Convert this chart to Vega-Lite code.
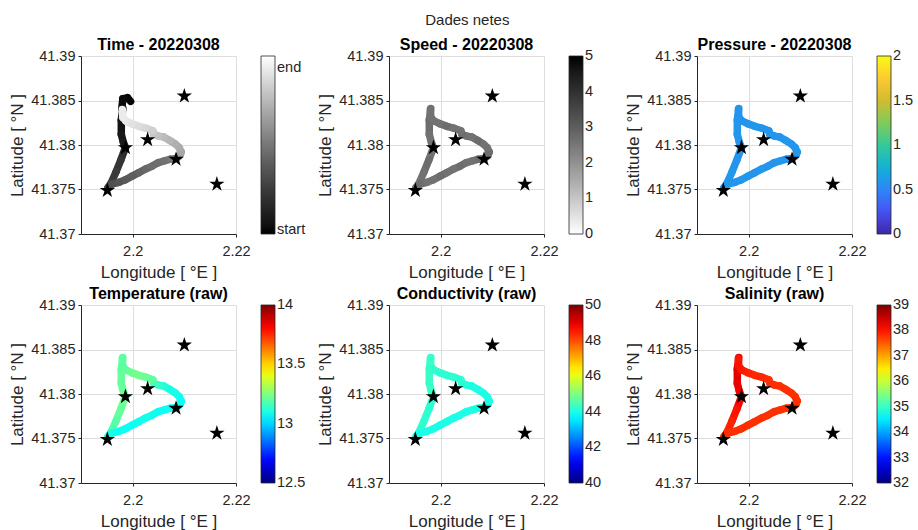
{
  "$schema": "https://vega.github.io/schema/vega-lite/v6.json",
  "padding": {"left": 8, "top": 13, "right": 5, "bottom": 2},
  "title": {"text": "Dades netes", "fontSize": 15, "fontWeight": "normal", "color": "#262626", "anchor": "middle", "dx": 6, "offset": 9},
  "datasets": {
    "stars": [
      {"name": "A", "lon": 2.1951, "lat": 41.3749},
      {"name": "B", "lon": 2.1986, "lat": 41.3797},
      {"name": "C", "lon": 2.2029, "lat": 41.3806},
      {"name": "D", "lon": 2.2084, "lat": 41.3784},
      {"name": "E", "lon": 2.2100, "lat": 41.3855},
      {"name": "F", "lon": 2.2163, "lat": 41.3756}
    ],
    "hook": [
      {"lon": 2.1996, "lat": 41.3849, "lon2": 2.1990, "lat2": 41.3853, "t": 0.01},
      {"lon": 2.1990, "lat": 41.3853, "lon2": 2.1981, "lat2": 41.3852, "t": 0.02},
      {"lon": 2.1981, "lat": 41.3852, "lon2": 2.1979, "lat2": 41.3841, "t": 0.03}
    ],
    "track": [
      {"lon": 2.1981, "lat": 41.3841, "lon2": 2.1978, "lat2": 41.3828, "t": 0.04, "speed": 2.6, "pres": 0.58, "temp": 13.20, "cond": 44.3, "sal": 38.3},
      {"lon": 2.1978, "lat": 41.3828, "lon2": 2.1978, "lat2": 41.3812, "t": 0.06, "speed": 2.7, "pres": 0.6, "temp": 13.21, "cond": 44.3, "sal": 38.3},
      {"lon": 2.1978, "lat": 41.3812, "lon2": 2.1982, "lat2": 41.3803, "t": 0.08, "speed": 2.6, "pres": 0.58, "temp": 13.21, "cond": 44.3, "sal": 38.25},
      {"lon": 2.1982, "lat": 41.3803, "lon2": 2.1986, "lat2": 41.3797, "t": 0.10, "speed": 2.6, "pres": 0.6, "temp": 13.22, "cond": 44.3, "sal": 38.2},
      {"lon": 2.1986, "lat": 41.3797, "lon2": 2.1977, "lat2": 41.3783, "t": 0.19, "speed": 2.6, "pres": 0.58, "temp": 13.22, "cond": 44.2, "sal": 38.1},
      {"lon": 2.1977, "lat": 41.3783, "lon2": 2.1968, "lat2": 41.3770, "t": 0.22, "speed": 2.7, "pres": 0.58, "temp": 13.21, "cond": 44.2, "sal": 38.0},
      {"lon": 2.1968, "lat": 41.3770, "lon2": 2.1958, "lat2": 41.3757, "t": 0.25, "speed": 2.6, "pres": 0.6, "temp": 13.19, "cond": 44.2, "sal": 37.9},
      {"lon": 2.1958, "lat": 41.3757, "lon2": 2.1952, "lat2": 41.3752, "t": 0.27, "speed": 2.5, "pres": 0.58, "temp": 13.15, "cond": 44.1, "sal": 37.85},
      {"lon": 2.1952, "lat": 41.3752, "lon2": 2.1960, "lat2": 41.3756, "t": 0.32, "speed": 2.6, "pres": 0.58, "temp": 13.10, "cond": 44.0, "sal": 37.8},
      {"lon": 2.1960, "lat": 41.3756, "lon2": 2.1973, "lat2": 41.3758, "t": 0.34, "speed": 2.7, "pres": 0.6, "temp": 13.09, "cond": 44.0, "sal": 37.8},
      {"lon": 2.1973, "lat": 41.3758, "lon2": 2.1986, "lat2": 41.3761, "t": 0.36, "speed": 2.6, "pres": 0.58, "temp": 13.08, "cond": 44.0, "sal": 37.8},
      {"lon": 2.1986, "lat": 41.3761, "lon2": 2.1999, "lat2": 41.3765, "t": 0.38, "speed": 2.6, "pres": 0.6, "temp": 13.08, "cond": 44.0, "sal": 37.8},
      {"lon": 2.1999, "lat": 41.3765, "lon2": 2.2012, "lat2": 41.3769, "t": 0.40, "speed": 2.7, "pres": 0.58, "temp": 13.08, "cond": 44.0, "sal": 37.8},
      {"lon": 2.2012, "lat": 41.3769, "lon2": 2.2025, "lat2": 41.3773, "t": 0.42, "speed": 2.6, "pres": 0.58, "temp": 13.09, "cond": 44.0, "sal": 37.8},
      {"lon": 2.2025, "lat": 41.3773, "lon2": 2.2037, "lat2": 41.3776, "t": 0.44, "speed": 2.6, "pres": 0.6, "temp": 13.09, "cond": 44.0, "sal": 37.8},
      {"lon": 2.2037, "lat": 41.3776, "lon2": 2.2049, "lat2": 41.3780, "t": 0.46, "speed": 2.7, "pres": 0.58, "temp": 13.09, "cond": 44.0, "sal": 37.8},
      {"lon": 2.2049, "lat": 41.3780, "lon2": 2.2060, "lat2": 41.3782, "t": 0.47, "speed": 2.6, "pres": 0.58, "temp": 13.08, "cond": 44.0, "sal": 37.8},
      {"lon": 2.2060, "lat": 41.3782, "lon2": 2.2073, "lat2": 41.3784, "t": 0.48, "speed": 2.6, "pres": 0.6, "temp": 13.08, "cond": 44.0, "sal": 37.8},
      {"lon": 2.2073, "lat": 41.3784, "lon2": 2.2085, "lat2": 41.3785, "t": 0.50, "speed": 2.7, "pres": 0.58, "temp": 13.08, "cond": 44.0, "sal": 37.8},
      {"lon": 2.2085, "lat": 41.3785, "lon2": 2.2091, "lat2": 41.3788, "t": 0.58, "speed": 2.6, "pres": 0.58, "temp": 13.08, "cond": 44.0, "sal": 37.8},
      {"lon": 2.2091, "lat": 41.3788, "lon2": 2.2094, "lat2": 41.3792, "t": 0.64, "speed": 2.6, "pres": 0.58, "temp": 13.08, "cond": 44.0, "sal": 37.8},
      {"lon": 2.2094, "lat": 41.3792, "lon2": 2.2090, "lat2": 41.3797, "t": 0.68, "speed": 2.7, "pres": 0.6, "temp": 13.08, "cond": 44.0, "sal": 37.8},
      {"lon": 2.2090, "lat": 41.3797, "lon2": 2.2083, "lat2": 41.3801, "t": 0.70, "speed": 2.6, "pres": 0.58, "temp": 13.08, "cond": 44.0, "sal": 37.8},
      {"lon": 2.2083, "lat": 41.3801, "lon2": 2.2072, "lat2": 41.3805, "t": 0.72, "speed": 2.6, "pres": 0.58, "temp": 13.09, "cond": 44.0, "sal": 37.8},
      {"lon": 2.2072, "lat": 41.3805, "lon2": 2.2060, "lat2": 41.3809, "t": 0.74, "speed": 2.7, "pres": 0.6, "temp": 13.10, "cond": 44.0, "sal": 37.8},
      {"lon": 2.2060, "lat": 41.3809, "lon2": 2.2050, "lat2": 41.3810, "t": 0.76, "speed": 2.6, "pres": 0.58, "temp": 13.12, "cond": 44.0, "sal": 37.8},
      {"lon": 2.2050, "lat": 41.3810, "lon2": 2.2041, "lat2": 41.3812, "t": 0.78, "speed": 2.6, "pres": 0.58, "temp": 13.14, "cond": 44.1, "sal": 37.8},
      {"lon": 2.2041, "lat": 41.3812, "lon2": 2.2039, "lat2": 41.3816, "t": 0.80, "speed": 2.7, "pres": 0.6, "temp": 13.16, "cond": 44.1, "sal": 37.8},
      {"lon": 2.2039, "lat": 41.3816, "lon2": 2.2025, "lat2": 41.3819, "t": 0.83, "speed": 2.6, "pres": 0.58, "temp": 13.20, "cond": 44.2, "sal": 37.8},
      {"lon": 2.2025, "lat": 41.3819, "lon2": 2.2012, "lat2": 41.3821, "t": 0.86, "speed": 2.6, "pres": 0.58, "temp": 13.22, "cond": 44.2, "sal": 37.85},
      {"lon": 2.2012, "lat": 41.3821, "lon2": 2.1998, "lat2": 41.3824, "t": 0.88, "speed": 2.7, "pres": 0.6, "temp": 13.23, "cond": 44.2, "sal": 37.85},
      {"lon": 2.1998, "lat": 41.3824, "lon2": 2.1987, "lat2": 41.3827, "t": 0.90, "speed": 2.6, "pres": 0.58, "temp": 13.22, "cond": 44.2, "sal": 37.9},
      {"lon": 2.1987, "lat": 41.3827, "lon2": 2.1981, "lat2": 41.3831, "t": 0.92, "speed": 2.6, "pres": 0.58, "temp": 13.21, "cond": 44.2, "sal": 37.95},
      {"lon": 2.1981, "lat": 41.3831, "lon2": 2.1980, "lat2": 41.3840, "t": 0.93, "speed": 2.6, "pres": 0.58, "temp": 13.20, "cond": 44.3, "sal": 38.0}
    ]
  },
  "columns": 3,
  "bounds": "flush",
  "spacing": {"row": 71, "column": 153},
  "resolve": {"scale": {"color": "independent", "x": "independent", "y": "independent"}, "legend": {"color": "independent"}},
  "concat": [
    {
      "title": "Time - 20220308",
      "width": 155, "height": 178,
      "encoding": {
        "x": {"field": "lon", "type": "quantitative", "scale": {"domain": [2.19, 2.22], "nice": false, "zero": false}, "axis": {"values": [2.2, 2.22], "format": ".6~g", "title": "Longitude [ °E ]"}},
        "y": {"field": "lat", "type": "quantitative", "scale": {"domain": [41.37, 41.39], "nice": false, "zero": false}, "axis": {"values": [41.37, 41.375, 41.38, 41.385, 41.39], "format": ".6~g", "title": "Latitude [ °N ]"}}
      },
      "layer": [
        {"data": {"name": "hook"}, "mark": {"type": "rule", "strokeWidth": 7.5, "strokeCap": "round"},
         "encoding": {"x2": {"field": "lon2"}, "y2": {"field": "lat2"},
           "color": {"field": "t", "type": "quantitative", "scale": {"domain": [0, 1], "range": ["#000000", "#ffffff"]}, "legend": {"title": null, "values": [0.02, 0.93], "labelExpr": "datum.value < 0.5 ? 'start' : 'end'", "encode": {"labels": {"update": {"baseline": {"value": "middle"}}}}}}}},
        {"data": {"name": "track"}, "mark": {"type": "rule", "strokeWidth": 7.5, "strokeCap": "round"},
         "encoding": {"x2": {"field": "lon2"}, "y2": {"field": "lat2"},
           "color": {"field": "t", "type": "quantitative", "scale": {"domain": [0, 1], "range": ["#000000", "#ffffff"]}, "legend": {"title": null, "values": [0.02, 0.93], "labelExpr": "datum.value < 0.5 ? 'start' : 'end'", "encode": {"labels": {"update": {"baseline": {"value": "middle"}}}}}}}},
        {"data": {"name": "stars"}, "mark": {"type": "point", "shape": "M0,-1L0.2245,-0.309L0.9511,-0.309L0.3633,0.118L0.5878,0.809L0,0.382L-0.5878,0.809L-0.3633,0.118L-0.9511,-0.309L-0.2245,-0.309Z", "filled": true, "color": "#000000", "opacity": 1, "size": 260}}
      ]
    },
    {
      "title": "Speed - 20220308",
      "width": 155, "height": 178,
      "encoding": {
        "x": {"field": "lon", "type": "quantitative", "scale": {"domain": [2.19, 2.22], "nice": false, "zero": false}, "axis": {"values": [2.2, 2.22], "format": ".6~g", "title": "Longitude [ °E ]"}},
        "y": {"field": "lat", "type": "quantitative", "scale": {"domain": [41.37, 41.39], "nice": false, "zero": false}, "axis": {"values": [41.37, 41.375, 41.38, 41.385, 41.39], "format": ".6~g", "title": "Latitude [ °N ]"}}
      },
      "layer": [
        {"data": {"name": "track"}, "mark": {"type": "rule", "strokeWidth": 7.5, "strokeCap": "round"},
         "encoding": {"x2": {"field": "lon2"}, "y2": {"field": "lat2"},
           "color": {"field": "speed", "type": "quantitative", "scale": {"domain": [0, 5], "range": ["#ffffff", "#000000"]}, "legend": {"title": null, "values": [0, 1, 2, 3, 4, 5], "format": ".6~g", "encode": {"labels": {"update": {"baseline": {"value": "middle"}}}}}}}},
        {"data": {"name": "stars"}, "mark": {"type": "point", "shape": "M0,-1L0.2245,-0.309L0.9511,-0.309L0.3633,0.118L0.5878,0.809L0,0.382L-0.5878,0.809L-0.3633,0.118L-0.9511,-0.309L-0.2245,-0.309Z", "filled": true, "color": "#000000", "opacity": 1, "size": 260}}
      ]
    },
    {
      "title": "Pressure - 20220308",
      "width": 155, "height": 178,
      "encoding": {
        "x": {"field": "lon", "type": "quantitative", "scale": {"domain": [2.19, 2.22], "nice": false, "zero": false}, "axis": {"values": [2.2, 2.22], "format": ".6~g", "title": "Longitude [ °E ]"}},
        "y": {"field": "lat", "type": "quantitative", "scale": {"domain": [41.37, 41.39], "nice": false, "zero": false}, "axis": {"values": [41.37, 41.375, 41.38, 41.385, 41.39], "format": ".6~g", "title": "Latitude [ °N ]"}}
      },
      "layer": [
        {"data": {"name": "track"}, "mark": {"type": "rule", "strokeWidth": 7.5, "strokeCap": "round"},
         "encoding": {"x2": {"field": "lon2"}, "y2": {"field": "lat2"},
           "color": {"field": "pres", "type": "quantitative", "scale": {"domain": [0, 0.25, 0.5, 0.75, 1, 1.25, 1.5, 1.75, 2], "range": ["#3e26a8", "#4752f4", "#2d87f7", "#12b1d6", "#37c897", "#80cc59", "#d1bb30", "#fec932", "#f9fb15"], "interpolate": "rgb"}, "legend": {"title": null, "values": [0, 0.5, 1, 1.5, 2], "format": ".6~g", "encode": {"labels": {"update": {"baseline": {"value": "middle"}}}}}}}},
        {"data": {"name": "stars"}, "mark": {"type": "point", "shape": "M0,-1L0.2245,-0.309L0.9511,-0.309L0.3633,0.118L0.5878,0.809L0,0.382L-0.5878,0.809L-0.3633,0.118L-0.9511,-0.309L-0.2245,-0.309Z", "filled": true, "color": "#000000", "opacity": 1, "size": 260}}
      ]
    },
    {
      "title": "Temperature (raw)",
      "width": 155, "height": 178,
      "encoding": {
        "x": {"field": "lon", "type": "quantitative", "scale": {"domain": [2.19, 2.22], "nice": false, "zero": false}, "axis": {"values": [2.2, 2.22], "format": ".6~g", "title": "Longitude [ °E ]"}},
        "y": {"field": "lat", "type": "quantitative", "scale": {"domain": [41.37, 41.39], "nice": false, "zero": false}, "axis": {"values": [41.37, 41.375, 41.38, 41.385, 41.39], "format": ".6~g", "title": "Latitude [ °N ]"}}
      },
      "layer": [
        {"data": {"name": "track"}, "mark": {"type": "rule", "strokeWidth": 7.5, "strokeCap": "round"},
         "encoding": {"x2": {"field": "lon2"}, "y2": {"field": "lat2"},
           "color": {"field": "temp", "type": "quantitative", "scale": {"domain": [12.5, 12.6875, 13.0625, 13.4375, 13.8125, 14], "range": ["#00007f", "#0000ff", "#00ffff", "#ffff00", "#ff0000", "#7f0000"], "interpolate": "rgb"}, "legend": {"title": null, "values": [12.5, 13, 13.5, 14], "format": ".6~g", "encode": {"labels": {"update": {"baseline": {"value": "middle"}}}}}}}},
        {"data": {"name": "stars"}, "mark": {"type": "point", "shape": "M0,-1L0.2245,-0.309L0.9511,-0.309L0.3633,0.118L0.5878,0.809L0,0.382L-0.5878,0.809L-0.3633,0.118L-0.9511,-0.309L-0.2245,-0.309Z", "filled": true, "color": "#000000", "opacity": 1, "size": 260}}
      ]
    },
    {
      "title": "Conductivity (raw)",
      "width": 155, "height": 178,
      "encoding": {
        "x": {"field": "lon", "type": "quantitative", "scale": {"domain": [2.19, 2.22], "nice": false, "zero": false}, "axis": {"values": [2.2, 2.22], "format": ".6~g", "title": "Longitude [ °E ]"}},
        "y": {"field": "lat", "type": "quantitative", "scale": {"domain": [41.37, 41.39], "nice": false, "zero": false}, "axis": {"values": [41.37, 41.375, 41.38, 41.385, 41.39], "format": ".6~g", "title": "Latitude [ °N ]"}}
      },
      "layer": [
        {"data": {"name": "track"}, "mark": {"type": "rule", "strokeWidth": 7.5, "strokeCap": "round"},
         "encoding": {"x2": {"field": "lon2"}, "y2": {"field": "lat2"},
           "color": {"field": "cond", "type": "quantitative", "scale": {"domain": [40, 41.25, 43.75, 46.25, 48.75, 50], "range": ["#00007f", "#0000ff", "#00ffff", "#ffff00", "#ff0000", "#7f0000"], "interpolate": "rgb"}, "legend": {"title": null, "values": [40, 42, 44, 46, 48, 50], "format": ".6~g", "encode": {"labels": {"update": {"baseline": {"value": "middle"}}}}}}}},
        {"data": {"name": "stars"}, "mark": {"type": "point", "shape": "M0,-1L0.2245,-0.309L0.9511,-0.309L0.3633,0.118L0.5878,0.809L0,0.382L-0.5878,0.809L-0.3633,0.118L-0.9511,-0.309L-0.2245,-0.309Z", "filled": true, "color": "#000000", "opacity": 1, "size": 260}}
      ]
    },
    {
      "title": "Salinity (raw)",
      "width": 155, "height": 178,
      "encoding": {
        "x": {"field": "lon", "type": "quantitative", "scale": {"domain": [2.19, 2.22], "nice": false, "zero": false}, "axis": {"values": [2.2, 2.22], "format": ".6~g", "title": "Longitude [ °E ]"}},
        "y": {"field": "lat", "type": "quantitative", "scale": {"domain": [41.37, 41.39], "nice": false, "zero": false}, "axis": {"values": [41.37, 41.375, 41.38, 41.385, 41.39], "format": ".6~g", "title": "Latitude [ °N ]"}}
      },
      "layer": [
        {"data": {"name": "track"}, "mark": {"type": "rule", "strokeWidth": 7.5, "strokeCap": "round"},
         "encoding": {"x2": {"field": "lon2"}, "y2": {"field": "lat2"},
           "color": {"field": "sal", "type": "quantitative", "scale": {"domain": [32, 32.875, 34.625, 36.375, 38.125, 39], "range": ["#00007f", "#0000ff", "#00ffff", "#ffff00", "#ff0000", "#7f0000"], "interpolate": "rgb"}, "legend": {"title": null, "values": [32, 33, 34, 35, 36, 37, 38, 39], "format": ".6~g", "encode": {"labels": {"update": {"baseline": {"value": "middle"}}}}}}}},
        {"data": {"name": "stars"}, "mark": {"type": "point", "shape": "M0,-1L0.2245,-0.309L0.9511,-0.309L0.3633,0.118L0.5878,0.809L0,0.382L-0.5878,0.809L-0.3633,0.118L-0.9511,-0.309L-0.2245,-0.309Z", "filled": true, "color": "#000000", "opacity": 1, "size": 260}}
      ]
    }
  ],
  "config": {
    "font": "Liberation Sans",
    "view": {"stroke": null},
    "axis": {"labelFontSize": 14.5, "labelColor": "#262626", "labelFont": "Liberation Sans", "titleFont": "Liberation Sans", "titleFontSize": 17, "titleFontWeight": "normal", "titleColor": "#262626", "domainColor": "#262626", "tickColor": "#262626", "tickSize": 3, "labelPadding": 3, "gridColor": "#dedede", "labelFlush": false, "labelOverlap": false, "labelBound": false},
    "axisX": {"titlePadding": 7, "labelPadding": 7},
    "axisY": {"titlePadding": 4},
    "legend": {"gradientLength": 178, "gradientThickness": 14, "offset": 25, "labelFontSize": 14.5, "labelFont": "Liberation Sans", "labelColor": "#262626", "labelOffset": 7, "labelBaseline": "middle", "gradientStrokeColor": "#262626", "gradientStrokeWidth": 0.8, "labelOverlap": false},
    "title": {"fontSize": 16, "fontWeight": "bold", "color": "#000000", "font": "Liberation Sans", "offset": -5}
  }
}
